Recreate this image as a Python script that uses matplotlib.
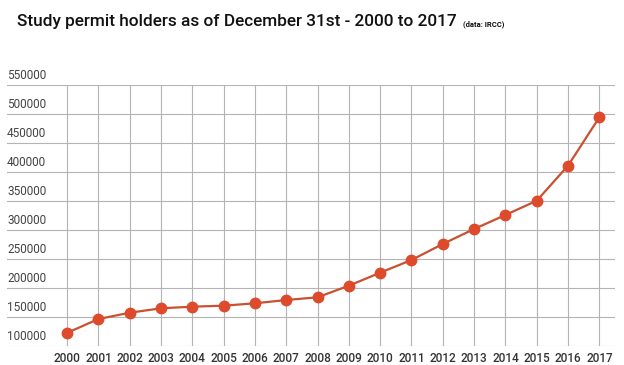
import matplotlib.pyplot as plt

# Study permit holders on December 31st (data: IRCC)
years = list(range(2000, 2018))
holders = [122700, 146500, 157400, 165000, 167800, 169500, 173600, 179300,
           184000, 204000, 226400, 248300, 275900, 301700, 325900, 350500,
           410900, 494300]
y_ticks = [100000, 150000, 200000, 250000, 300000, 350000, 400000, 450000,
           500000, 550000]

plt.rcParams['font.family'] = ['Roboto', 'DejaVu Sans']

fig = plt.figure(figsize=(6.24, 3.65), dpi=100)
ax = fig.add_axes([7 / 624, 19 / 365, 608 / 624, 261 / 365])

ax.plot(years, holders, color='#c9512f', lw=1.6, marker='o', markersize=7.5,
        markerfacecolor='#de4a2c', markeredgecolor='#de4a2c', zorder=3)

ax.set_xlim(1998.08, 2017.5)
ax.set_ylim(100000, 550000)

# grid: horizontal lines across the whole width, vertical only at the years
for v in y_ticks:
    ax.axhline(v, color='#b4b4b4', lw=0.8, zorder=1)
    ax.annotate(str(v), xy=(0, v), xycoords=ax.get_yaxis_transform(),
                xytext=(0, 2), textcoords='offset points',
                ha='left', va='bottom', fontsize=8.5, color='#444444')
for yr in years:
    ax.axvline(yr, color='#b4b4b4', lw=0.8, zorder=1)

ax.set_xticks(years)
ax.set_xticklabels([str(y) for y in years], fontsize=8.5, color='#333333',
                   fontweight='medium')
ax.tick_params(axis='x', length=0, pad=4)
ax.set_yticks([])
for s in ax.spines.values():
    s.set_visible(False)

fig.text(17 / 624, 1 - 26 / 365, "Study permit holders as of December 31st - 2000 to 2017",
         fontsize=12.4, fontweight='medium', color='#111111', ha='left', va='baseline')
fig.text(463 / 624, 1 - 26 / 365, "(data: IRCC)", fontsize=5.5, fontweight='bold',
         color='#111111', ha='left', va='baseline')

fig.savefig('out.png', dpi=100)
